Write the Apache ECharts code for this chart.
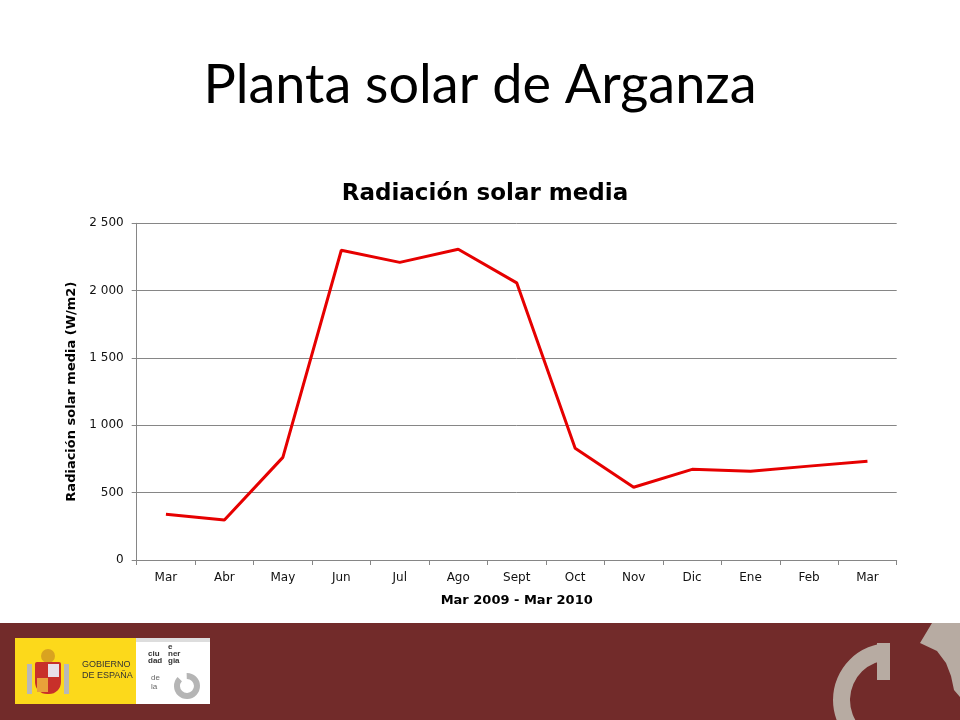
<!DOCTYPE html>
<html><head><meta charset="utf-8">
<script src="https://cdn.jsdelivr.net/npm/echarts@6/dist/echarts.min.js"></script>
<style>html,body{margin:0;padding:0;background:#fff}#c{width:960px;height:720px}</style>
</head><body><div id="c"></div>
<script>
var categories = ['Mar','Abr','May','Jun','Jul','Ago','Sept','Oct','Nov','Dic','Ene','Feb','Mar'];
var radiation = [339, 297, 762, 2300, 2210, 2307, 2058, 829, 540, 673, 659, 697, 733];
var yTicks = [0, 500, 1000, 1500, 2000, 2500];

var chart = echarts.init(document.getElementById('c'));
var grey = '#868686';
var logoGrey = '#B7ABA2';
chart.setOption({
  animation: false,
  backgroundColor: '#fff',
  title: [
    {text: 'Planta solar de Arganza', left: 'center', top: 54,
     textStyle: {fontFamily: 'Lato', fontWeight: 'normal', fontSize: 54, color: '#000'}},
    {text: 'Radiación solar media', left: 480, textAlign: 'center', top: 178,
     textStyle: {fontFamily: 'DejaVu Sans', fontWeight: 'bold', fontSize: 23, color: '#000'}}
  ],
  grid: {left: 136.7, right: 63.3, top: 223.3, bottom: 160},
  xAxis: {
    type: 'category', data: categories, boundaryGap: true,
    axisLine: {lineStyle: {color: grey}},
    axisTick: {show: true, alignWithLabel: false, length: 5, lineStyle: {color: grey}},
    axisLabel: {fontFamily: 'DejaVu Sans', fontSize: 12, color: '#111', margin: 12, interval: 0},
    name: 'Mar 2009 - Mar 2010', nameLocation: 'middle', nameGap: 34,
    nameTextStyle: {fontFamily: 'DejaVu Sans', fontWeight: 'bold', fontSize: 13, color: '#000'}
  },
  yAxis: {
    type: 'value', min: yTicks[0], max: yTicks[yTicks.length-1], interval: 500,
    axisLine: {show: true, lineStyle: {color: grey}},
    axisTick: {show: true, length: 5, lineStyle: {color: grey}},
    splitLine: {lineStyle: {color: grey, width: 1}},
    axisLabel: {fontFamily: 'DejaVu Sans', fontSize: 12, color: '#111', margin: 13,
      formatter: function(v){ return String(v).replace(/\B(?=(\d{3})+(?!\d))/g, ' '); }},
    name: 'Radiación solar media (W/m2)', nameLocation: 'middle', nameGap: 57,
    nameTextStyle: {fontFamily: 'DejaVu Sans', fontWeight: 'bold', fontSize: 13, color: '#000'}
  },
  series: [{
    type: 'line', data: radiation, showSymbol: false, symbol: 'none',
    lineStyle: {color: '#E60000', width: 3}
  }],
  graphic: [
    {type: 'rect', shape: {x: 0, y: 623, width: 960, height: 97}, style: {fill: '#722B2A'}},
    {type: 'rect', shape: {x: 15, y: 638, width: 121, height: 66}, style: {fill: '#FCD91B'}},
    {type: 'rect', shape: {x: 136, y: 638, width: 74, height: 66}, style: {fill: '#FFFFFF'}},
    {type: 'rect', shape: {x: 136, y: 638, width: 74, height: 4}, style: {fill: '#DDDDDD'}},
    // coat of arms (simplified)
    {type: 'rect', shape: {x: 27, y: 664, width: 5, height: 30}, style: {fill: '#B8B8B8'}},
    {type: 'rect', shape: {x: 64, y: 664, width: 5, height: 30}, style: {fill: '#B8B8B8'}},
    {type: 'circle', shape: {cx: 48, cy: 656, r: 7}, style: {fill: '#D9A320'}},
    {type: 'rect', shape: {x: 35, y: 662, width: 26, height: 32, r: [2, 2, 12, 12]}, style: {fill: '#C8302A'}},
    {type: 'rect', shape: {x: 48, y: 664, width: 11, height: 13}, style: {fill: '#E8E0E8'}},
    {type: 'rect', shape: {x: 37, y: 678, width: 11, height: 14}, style: {fill: '#E9A13A'}},
    {type: 'text', style: {x: 82, y: 660, text: 'GOBIERNO', fontFamily: 'Liberation Sans Narrow, Liberation Sans', fontSize: 9, fill: '#333'}},
    {type: 'text', style: {x: 82, y: 671, text: 'DE ESPAÑA', fontFamily: 'Liberation Sans Narrow, Liberation Sans', fontSize: 9, fill: '#333'}},
    {type: 'text', style: {x: 148, y: 650, text: 'ciu\ndad', fontFamily: 'Liberation Sans Narrow, Liberation Sans', fontSize: 8, lineHeight: 7, fontWeight: 'bold', fill: '#333'}},
    {type: 'text', style: {x: 168, y: 643, text: 'e\nner\ngia', fontFamily: 'Liberation Sans Narrow, Liberation Sans', fontSize: 8, lineHeight: 7, fontWeight: 'bold', fill: '#333'}},
    {type: 'text', style: {x: 151, y: 673, text: 'de\nla', fontFamily: 'Liberation Sans Narrow, Liberation Sans', fontSize: 8, lineHeight: 9, fill: '#666'}},
    {type: 'sector', shape: {cx: 187, cy: 686, r0: 7, r: 13, startAngle: -1.6, endAngle: 3.9, clockwise: true}, style: {fill: '#B5B5B5'}},
    // right big logo
    {type: 'sector', shape: {cx: 890, cy: 700, r0: 40, r: 57, startAngle: -1.5708, endAngle: 1.6, clockwise: false}, style: {fill: logoGrey}},
    {type: 'rect', shape: {x: 877, y: 643, width: 13, height: 37}, style: {fill: logoGrey}},
    {type: 'polygon', shape: {points: [[932,623],[960,623],[960,697],[954,690],[951,676],[946,663],[937,651],[920,643]]}, style: {fill: logoGrey}}
  ]
});
</script></body></html>
